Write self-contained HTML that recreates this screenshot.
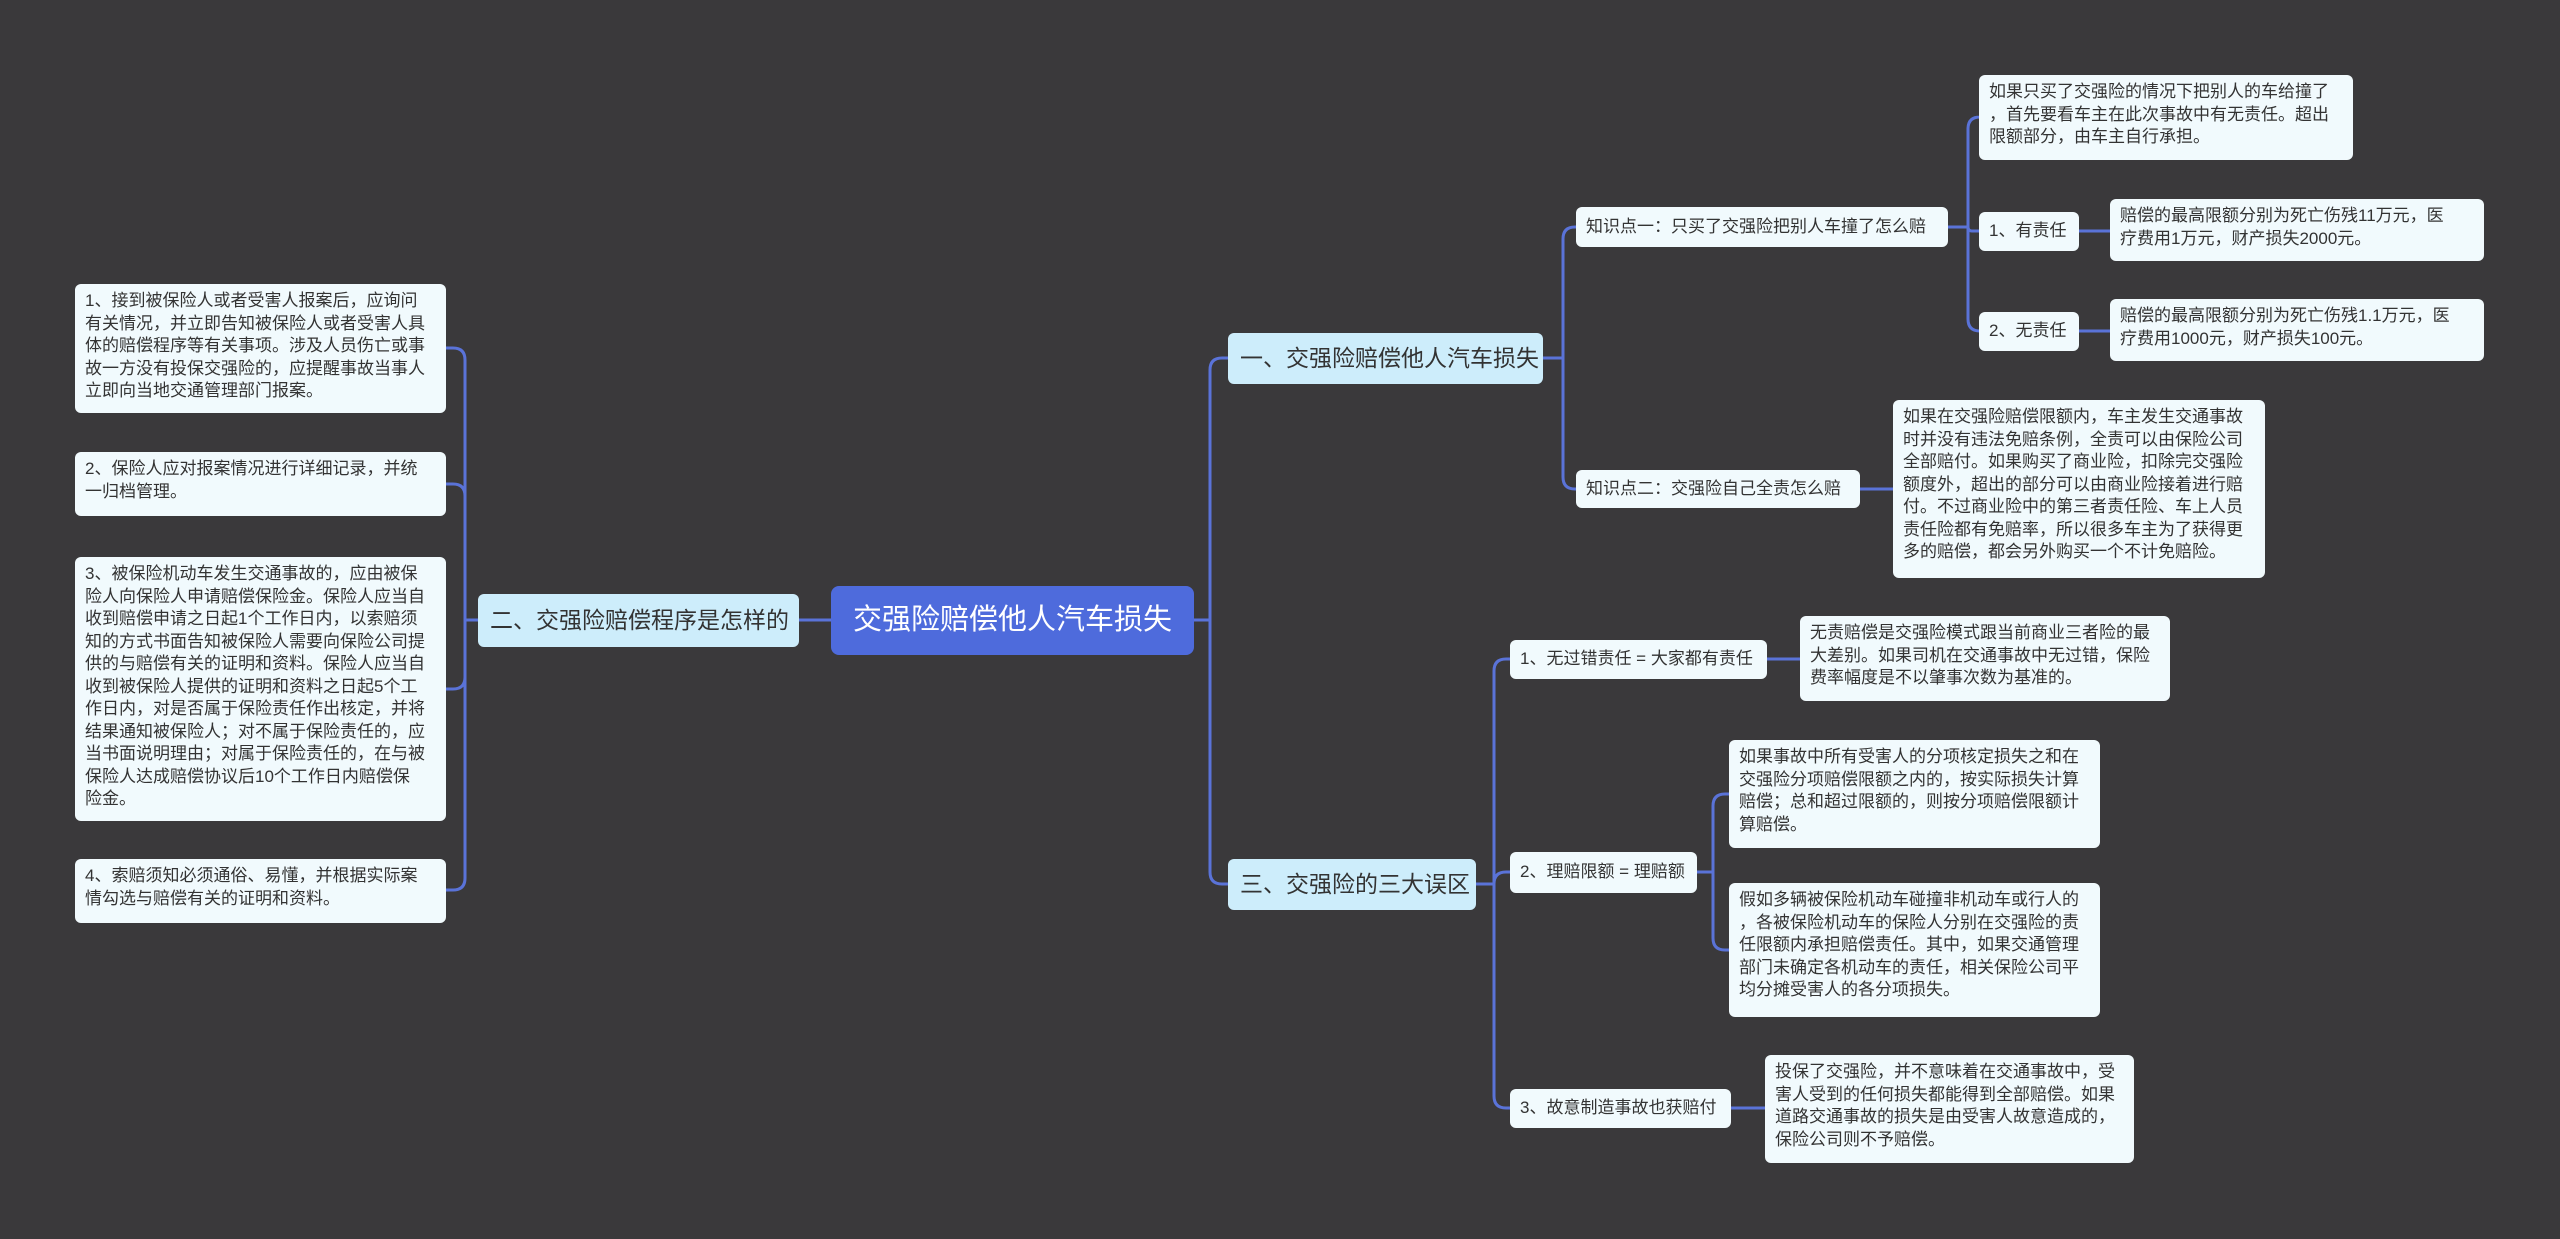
<!DOCTYPE html>
<html><head><meta charset="utf-8"><style>
html,body{margin:0;padding:0;}
body{width:2560px;height:1239px;background:#3a393b;position:relative;overflow:hidden;font-family:"Liberation Sans","Noto Sans CJK SC",sans-serif;}
.n{position:absolute;box-sizing:border-box;background:#f1fafd;color:#333;border-radius:6px;font-size:17px;line-height:22.5px;padding:6px 10px;white-space:nowrap;}
.s{display:flex;align-items:center;}
.l1{background:#cdedfb;font-size:23px;color:#333;padding:0 12px;display:flex;align-items:center;}
.root{background:#4e6bdc;color:#fff;font-size:29px;border-radius:8px;display:flex;align-items:center;justify-content:center;}
svg{position:absolute;left:0;top:0;}
</style></head><body>
<svg width="2560" height="1239" id="sv"></svg>

<div class="n root" style="left:831px;top:586px;width:363px;height:69px;">交强险赔偿他人汽车损失</div>
<div class="n l1" style="left:1228px;top:333px;width:315px;height:51px;">一、交强险赔偿他人汽车损失</div>
<div class="n l1" style="left:1228px;top:859px;width:248px;height:51px;">三、交强险的三大误区</div>
<div class="n l1" style="left:478px;top:594px;width:321px;height:53px;">二、交强险赔偿程序是怎样的</div>

<div class="n" style="left:75px;top:284px;width:371px;height:129px;">1、接到被保险人或者受害人报案后，应询问<br>有关情况，并立即告知被保险人或者受害人具<br>体的赔偿程序等有关事项。涉及人员伤亡或事<br>故一方没有投保交强险的，应提醒事故当事人<br>立即向当地交通管理部门报案。</div>
<div class="n" style="left:75px;top:452px;width:371px;height:64px;">2、保险人应对报案情况进行详细记录，并统<br>一归档管理。</div>
<div class="n" style="left:75px;top:557px;width:371px;height:264px;">3、被保险机动车发生交通事故的，应由被保<br>险人向保险人申请赔偿保险金。保险人应当自<br>收到赔偿申请之日起1个工作日内，以索赔须<br>知的方式书面告知被保险人需要向保险公司提<br>供的与赔偿有关的证明和资料。保险人应当自<br>收到被保险人提供的证明和资料之日起5个工<br>作日内，对是否属于保险责任作出核定，并将<br>结果通知被保险人；对不属于保险责任的，应<br>当书面说明理由；对属于保险责任的，在与被<br>保险人达成赔偿协议后10个工作日内赔偿保<br>险金。</div>
<div class="n" style="left:75px;top:859px;width:371px;height:64px;">4、索赔须知必须通俗、易懂，并根据实际案<br>情勾选与赔偿有关的证明和资料。</div>

<div class="n s" style="left:1576px;top:207px;width:372px;height:40px;">知识点一：只买了交强险把别人车撞了怎么赔</div>
<div class="n" style="left:1979px;top:75px;width:374px;height:85px;">如果只买了交强险的情况下把别人的车给撞了<br>，首先要看车主在此次事故中有无责任。超出<br>限额部分，由车主自行承担。</div>
<div class="n s" style="left:1979px;top:212px;width:100px;height:39px;">1、有责任</div>
<div class="n" style="left:2110px;top:199px;width:374px;height:62px;">赔偿的最高限额分别为死亡伤残11万元，医<br>疗费用1万元，财产损失2000元。</div>
<div class="n s" style="left:1979px;top:312px;width:100px;height:39px;">2、无责任</div>
<div class="n" style="left:2110px;top:299px;width:374px;height:62px;">赔偿的最高限额分别为死亡伤残1.1万元，医<br>疗费用1000元，财产损失100元。</div>
<div class="n s" style="left:1576px;top:470px;width:284px;height:38px;">知识点二：交强险自己全责怎么赔</div>
<div class="n" style="left:1893px;top:400px;width:372px;height:178px;">如果在交强险赔偿限额内，车主发生交通事故<br>时并没有违法免赔条例，全责可以由保险公司<br>全部赔付。如果购买了商业险，扣除完交强险<br>额度外，超出的部分可以由商业险接着进行赔<br>付。不过商业险中的第三者责任险、车上人员<br>责任险都有免赔率，所以很多车主为了获得更<br>多的赔偿，都会另外购买一个不计免赔险。</div>

<div class="n s" style="left:1510px;top:640px;width:257px;height:39px;">1、无过错责任 = 大家都有责任</div>
<div class="n" style="left:1800px;top:616px;width:370px;height:85px;">无责赔偿是交强险模式跟当前商业三者险的最<br>大差别。如果司机在交通事故中无过错，保险<br>费率幅度是不以肇事次数为基准的。</div>
<div class="n s" style="left:1510px;top:852px;width:187px;height:41px;">2、理赔限额 = 理赔额</div>
<div class="n" style="left:1729px;top:740px;width:371px;height:108px;">如果事故中所有受害人的分项核定损失之和在<br>交强险分项赔偿限额之内的，按实际损失计算<br>赔偿；总和超过限额的，则按分项赔偿限额计<br>算赔偿。</div>
<div class="n" style="left:1729px;top:883px;width:371px;height:134px;">假如多辆被保险机动车碰撞非机动车或行人的<br>，各被保险机动车的保险人分别在交强险的责<br>任限额内承担赔偿责任。其中，如果交通管理<br>部门未确定各机动车的责任，相关保险公司平<br>均分摊受害人的各分项损失。</div>
<div class="n s" style="left:1510px;top:1089px;width:221px;height:39px;">3、故意制造事故也获赔付</div>
<div class="n" style="left:1765px;top:1055px;width:369px;height:108px;">投保了交强险，并不意味着在交通事故中，受<br>害人受到的任何损失都能得到全部赔偿。如果<br>道路交通事故的损失是由受害人故意造成的，<br>保险公司则不予赔偿。</div>

<script>
var sv=document.getElementById('sv'),d='';
function L(px,py,vx,cx,cy){
 if(Math.abs(cy-py)<2){d+='M'+px+' '+py+' H'+cx+' ';return;}
 var dir=cx>vx?1:-1,s=cy>py?1:-1,r=Math.min(12,Math.abs(cy-py));
 d+='M'+px+' '+py+' H'+vx+' V'+(cy-s*r)+' Q'+vx+' '+cy+' '+(vx+dir*r)+' '+cy+' H'+cx+' ';
}
L(1194,620,1210,1228,358);L(1194,620,1210,1228,884);
L(831,620,815,799,620);
[348,484,689,890].forEach(function(y){L(478,620,465,446,y);});
L(1543,358,1563,1576,227);L(1543,358,1563,1576,489);
[117,231,331].forEach(function(y){L(1948,227,1968,1979,y);});
L(2079,231,2095,2110,231);L(2079,331,2095,2110,331);
L(1860,489,1876,1893,489);
[659,872,1108].forEach(function(y){L(1476,884,1494,1510,y);});
L(1767,659,1783,1800,659);
L(1697,872,1713,1729,794);L(1697,872,1713,1729,950);
L(1731,1108,1748,1765,1108);
sv.innerHTML='<path d="'+d+'" fill="none" stroke="#5a73d8" stroke-width="3"/>';
</script>
</body></html>
